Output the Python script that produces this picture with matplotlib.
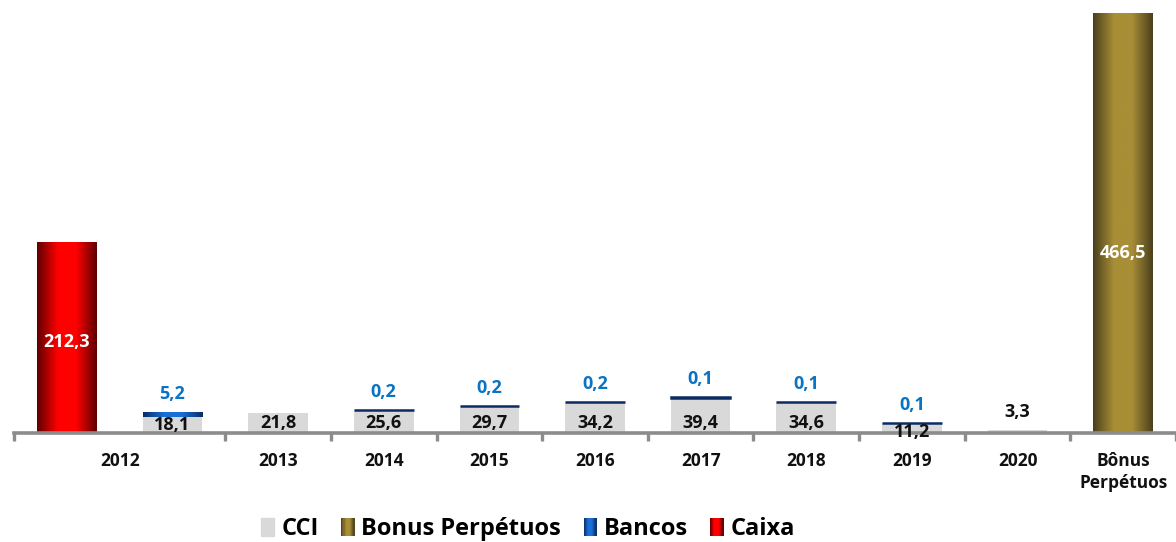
import numpy as np
import matplotlib
matplotlib.use("Agg")
import matplotlib.pyplot as plt
from matplotlib.colors import LinearSegmentedColormap
from matplotlib.legend_handler import HandlerBase
from matplotlib.patches import Rectangle

plt.rcParams["font.family"] = ["Open Sans", "DejaVu Sans"]

# data
years = ["2012", "2013", "2014", "2015", "2016", "2017", "2018", "2019", "2020"]
cci = [18.1, 21.8, 25.6, 29.7, 34.2, 39.4, 34.6, 11.2, 3.3]
bancos = [5.2, np.nan, 0.2, 0.2, 0.2, 0.1, 0.1, 0.1, np.nan]
caixa = 212.3          # 2012 only
bonus = 466.5          # perpetual bonds
bonus_label = "Bônus\nPerpétuos"

# colours: (edge, centre) for the shaded bars
GRAY = "#d9d9d9"
RED = ("#5e0000", "#ff0000")
BLUE = ("#0b2c63", "#1a6fd6")
OLIVE = ("#4a3f1d", "#a88e36")
BLUE_TXT = "#0a74c4"
AXIS_GRAY = "#8c8c8c"


def fmt(v):
    return f"{v:.1f}".replace(".", ",")


def grad_cmap(edge, mid):
    return LinearSegmentedColormap.from_list(
        "g", [(0, edge), (0.35, mid), (0.65, mid), (1, edge)])


def shade(ax, bars, colors):
    cmap = grad_cmap(*colors)
    grad = np.linspace(0, 1, 256).reshape(1, -1)
    for b in bars:
        x, y = b.get_x(), b.get_y()
        w, h = b.get_width(), b.get_height()
        if not h > 0.5:
            continue
        b.set_linewidth(0)
        im = ax.imshow(grad, cmap=cmap, aspect="auto", interpolation="bilinear",
                       extent=(x, x + w, y, y + h), zorder=b.get_zorder() + 0.1)
        im.set_clip_path(b)


class GradientHandle(HandlerBase):
    def __init__(self, colors):
        super().__init__()
        self.colors = colors

    def create_artists(self, legend, orig_handle, xdescent, ydescent,
                       width, height, fontsize, trans):
        cmap = grad_cmap(*self.colors)
        n = 12
        arts = []
        for k in range(n):
            arts.append(Rectangle((-xdescent + k * width / n, -ydescent), width / n + 0.3,
                                  height, facecolor=cmap((k + 0.5) / n),
                                  edgecolor="none", transform=trans))
        return arts


fig = plt.figure(figsize=(11.76, 5.42), dpi=100)
ax = fig.add_axes([14 / 1176, 109 / 542, 1 - 14 / 1176, 433 / 542])

w = 0.565
x_years = np.arange(1, len(years) + 1)
x_bonus = len(years) + 1

# bars
caixa_bar = ax.bar([0], [caixa], width=w, color=RED[1], zorder=2)
shade(ax, caixa_bar, RED)

cci_bars = ax.bar(x_years, cci, width=w, color=GRAY, zorder=2)

bancos_arr = np.array(bancos)
has_b = ~np.isnan(bancos_arr)
bancos_bars = ax.bar(x_years[has_b], bancos_arr[has_b], width=w,
                     bottom=np.array(cci)[has_b], color=BLUE[1],
                     edgecolor=BLUE[0], linewidth=1.8, zorder=3)
shade(ax, bancos_bars, BLUE)

bonus_bar = ax.bar([x_bonus], [bonus], width=w, color=OLIVE[1], zorder=2)
shade(ax, bonus_bar, OLIVE)

# value labels
lab = dict(fontsize=13, fontweight="bold", ha="center", va="center", zorder=6)
ax.text(0, caixa * 0.475, fmt(caixa), color="white", **lab)
ax.text(x_bonus, bonus * 0.43, fmt(bonus), color="white", **lab)

for x, v in zip(x_years, cci):
    if v < 5:
        base, off = v, 13
    elif v < 15:
        base, off = 0, 1
    elif v < 20:
        base, off = 0, 5.5
    else:
        base, off = 0, 7.5
    ax.annotate(fmt(v), (x, base), xytext=(0, off), textcoords="offset points",
                color="#111111", **lab)

for x, c, b in zip(x_years[has_b], np.array(cci)[has_b], bancos_arr[has_b]):
    ax.annotate(fmt(b), (x, c + b), xytext=(0, 13), textcoords="offset points",
                color=BLUE_TXT, **lab)

# axes
ax.set_xlim(-0.5, 10.44)
ax.set_ylim(0, 481.3)
for s in ("top", "right", "left"):
    ax.spines[s].set_visible(False)
ax.spines["bottom"].set_color(AXIS_GRAY)
ax.spines["bottom"].set_linewidth(2.6)
ax.set_yticks([])

ax.set_xticks([0.5] + list(x_years[1:]) + [x_bonus])
ax.set_xticklabels(years + [bonus_label], fontsize=12.5, fontweight="bold",
                   color="#111111", linespacing=1.25)
ax.set_xticks(np.arange(-0.5, x_bonus + 1, 1), minor=True)
ax.tick_params(axis="x", which="major", length=0, pad=14)
ax.tick_params(axis="x", which="minor", length=6, width=2.4, color=AXIS_GRAY)

# legend
handles = [Rectangle((0, 0), 1, 1, color=GRAY), Rectangle((0, 0), 1, 1),
           Rectangle((0, 0), 1, 1), Rectangle((0, 0), 1, 1)]
hmap = {handles[1]: GradientHandle(OLIVE), handles[2]: GradientHandle(BLUE),
        handles[3]: GradientHandle(RED)}
fig.legend(handles, ["CCI", "Bonus Perpétuos", "Bancos", "Caixa"],
           handler_map=hmap, loc="center", bbox_to_anchor=(528 / 1176, 1 - 529 / 542),
           ncol=4, frameon=False, handlelength=0.55, handleheight=0.8,
           handletextpad=0.3, columnspacing=0.95,
           prop=dict(size=17, weight="bold"))

fig.savefig("out.png", dpi=100)
